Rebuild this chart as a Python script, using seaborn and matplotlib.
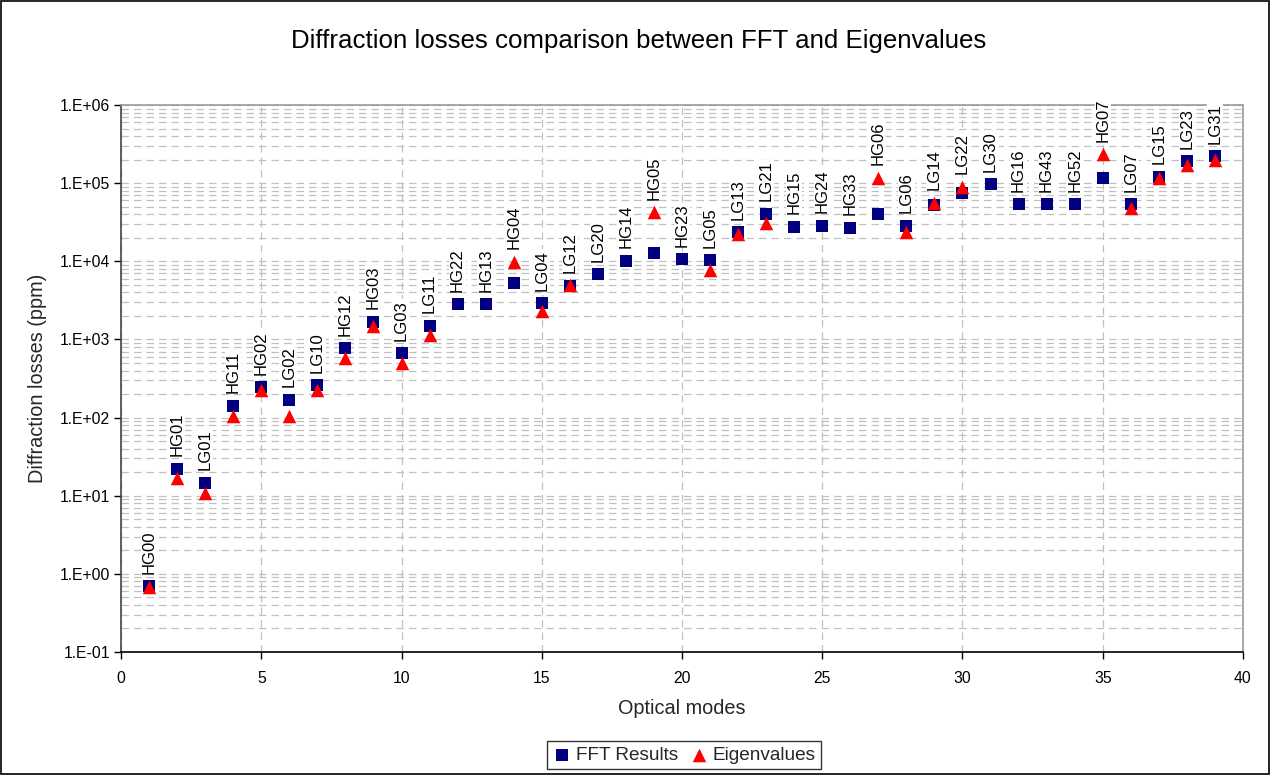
import numpy as np
import pandas as pd
import matplotlib
matplotlib.use("Agg")
import matplotlib.pyplot as plt
import seaborn as sns
from matplotlib.ticker import LogLocator, FuncFormatter, NullFormatter, MultipleLocator
from matplotlib.patches import Rectangle

modes = list(range(1, 40))
mode_names = ["HG00", "HG01", "LG01", "HG11", "HG02", "LG02", "LG10", "HG12", "HG03", "LG03",
              "LG11", "HG22", "HG13", "HG04", "LG04", "LG12", "LG20", "HG14", "HG05", "HG23",
              "LG05", "LG13", "LG21", "HG15", "HG24", "HG33", "HG06", "LG06", "LG14", "LG22",
              "LG30", "HG16", "HG43", "HG52", "HG07", "LG07", "LG15", "LG23", "LG31"]
fft_results = [0.69, 22, 14.7, 141, 244, 168, 261, 771, 1690, 664,
               1500, 2840, 2830, 5230, 2900, 4890, 6800, 10200, 12800, 10600,
               10300, 23400, 40300, 27700, 28600, 26700, 40300, 28600, 52000, 74100,
               96600, 53600, 53600, 53600, 115000, 54000, 121000, 192000, 222000]
eigenvalues = [0.68, 16.7, 10.7, 105, 225, 105, 225, 573, 1490, 504,
               1140, np.nan, np.nan, 9890, 2330, 4950, np.nan, np.nan, 42400, np.nan,
               7730, 22100, 31200, np.nan, np.nan, np.nan, 117000, 23400, 56200, 90100,
               np.nan, np.nan, np.nan, np.nan, 234000, 47600, 117000, 171000, 198000]

df = pd.DataFrame({"mode": modes, "fft": fft_results, "eig": eigenvalues, "name": mode_names})

sns.set_theme(style="white")
plt.rcParams['font.family'] = ['Liberation Sans', 'DejaVu Sans']

fig = plt.figure(figsize=(12.7, 7.75), dpi=100)
ax = fig.add_axes([0.0953, 0.1587, 0.9787 - 0.0953, 0.8645 - 0.1587])

sns.scatterplot(data=df, x="mode", y="fft", marker="s", s=80, color="#000080",
                edgecolor="#000080", linewidth=0, ax=ax, label="FFT Results", zorder=3)
sns.scatterplot(data=df.dropna(subset=["eig"]), x="mode", y="eig", marker="^", s=95,
                color="#FF0000", edgecolor="#FF0000", linewidth=0, ax=ax,
                label="Eigenvalues", zorder=4)

ax.set_yscale("log")
ax.set_ylim(1e-1, 1e6)
ax.set_xlim(0, 40)
ax.xaxis.set_major_locator(MultipleLocator(5))
ax.yaxis.set_major_locator(LogLocator(base=10, numticks=20))
ax.yaxis.set_minor_locator(LogLocator(base=10, subs=np.arange(2, 10), numticks=50))
ax.yaxis.set_major_formatter(FuncFormatter(lambda v, p: "1.E{:+03d}".format(int(round(np.log10(v))))))
ax.yaxis.set_minor_formatter(NullFormatter())

ax.grid(True, which="major", axis="both", color="#c0c0c0", linestyle=(0, (6, 4)), linewidth=0.9)
ax.grid(True, which="minor", axis="y", color="#c0c0c0", linestyle=(0, (6, 4)), linewidth=0.9)
ax.set_axisbelow(True)

ax.tick_params(axis="both", which="major", direction="out", length=5, width=1,
               labelsize=11.3, colors="black", left=True, bottom=True)
ax.tick_params(axis="x", which="major", pad=9)
ax.tick_params(axis="y", which="major", pad=3)
ax.tick_params(axis="y", which="minor", length=0)

for side in ["top", "right"]:
    ax.spines[side].set_color("#999999")
    ax.spines[side].set_linewidth(1.2)
ax.spines["left"].set_color("#444444")
ax.spines["left"].set_linewidth(1.2)
ax.spines["bottom"].set_color("black")
ax.spines["bottom"].set_linewidth(1.2)

ax.set_xlabel("Optical modes", fontsize=14.3, labelpad=9)
ax.set_ylabel("Diffraction losses (ppm)", fontsize=14.3, labelpad=9)
fig.text(639 / 1270, 1 - 41 / 775, "Diffraction losses comparison between FFT and Eigenvalues",
         fontsize=18.6, ha="center", va="center", color="black")

for m, f, e, n in zip(modes, fft_results, eigenvalues, mode_names):
    top = f if np.isnan(e) else max(f, e)
    ax.annotate(n, xy=(m, top), xytext=(0, 9), textcoords="offset points",
                rotation=90, ha="center", va="bottom", fontsize=12, color="black",
                bbox=dict(facecolor="white", edgecolor="none", pad=0.5),
                annotation_clip=False, zorder=5)

leg = ax.legend(loc="center", bbox_to_anchor=(684 / 1270, 1 - 755 / 775),
                bbox_transform=fig.transFigure, ncol=2, frameon=True, fancybox=False,
                fontsize=13.7, handletextpad=0.2, columnspacing=0.6, borderpad=0.3,
                handlelength=1.0, markerscale=1.0)
leg.get_frame().set_edgecolor("black")
leg.get_frame().set_linewidth(1.0)

fig.patches.append(Rectangle((0.0008, 0.0008), 0.9984, 0.9984, transform=fig.transFigure,
                             fill=False, edgecolor="black", linewidth=1.2))

fig.savefig("out.png", dpi=100)
